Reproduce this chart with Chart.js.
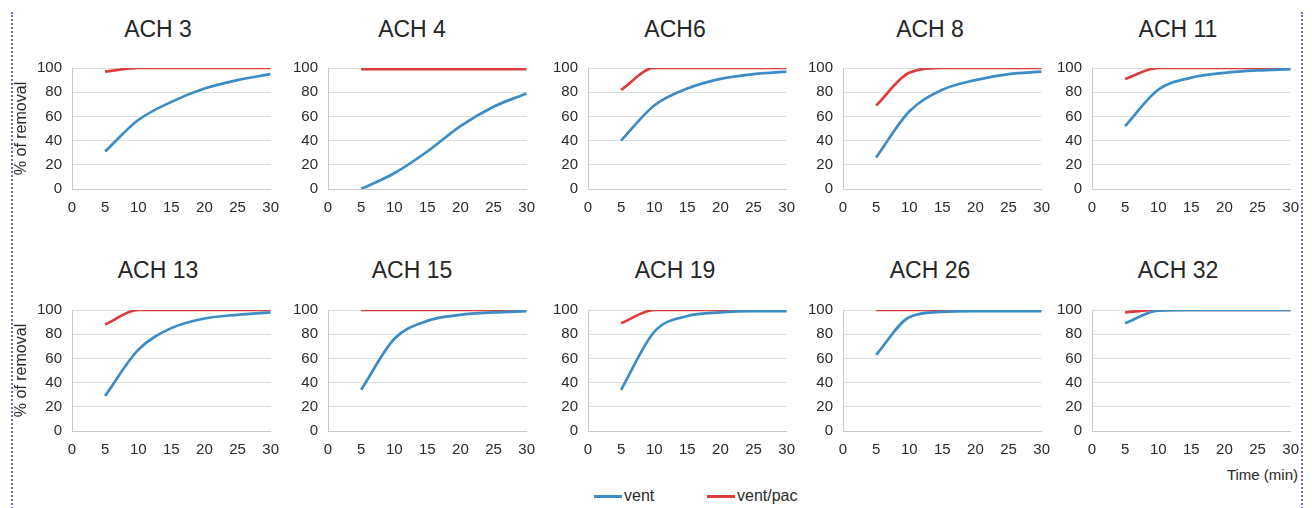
<!DOCTYPE html>
<html lang="en">
<head>
<meta charset="UTF-8">
<title>Removal over time by air change rate</title>
<script src="https://cdn.jsdelivr.net/npm/chart.js"></script>
<style>
  body { margin: 0; background: #fff; font-family: "Liberation Sans", Arial, sans-serif; color: #262626; }
  #figure { position: relative; width: 1312px; height: 508px; overflow: hidden; }
  #frame {
    position: absolute; left: 11px; top: 12px; width: 1288px; height: 520px;
    border-left: 2px dotted #8064c0; border-right: 2px dotted #8064c0;
  }
  canvas { position: absolute; }
  .title { position: absolute; font-size: 23px; transform: translate(-50%, -50%); white-space: nowrap; }
  .key-line { position: absolute; height: 3px; width: 28px; }
  .key-text { position: absolute; font-size: 16px; transform: translateY(-50%); color: #2a2a2a; }
  #time-label { position: absolute; right: 14px; top: 466px; font-size: 15px; color: #2a2a2a; }
</style>
</head>
<body>
<div id="figure">
  <div id="frame"></div>
  <div id="time-label">Time (min)</div>
  <div class="key-line" style="left:594px; top:495px; background:#3d8cc6"></div>
  <div class="key-text" style="left:624px; top:496px">vent</div>
  <div class="key-line" style="left:707px; top:495px; background:#dd3c3c"></div>
  <div class="key-text" style="left:737px; top:496px">vent/pac</div>
</div>
<script>
// sampling times (min)
const times = [5, 10, 15, 20, 25, 30];

const panelTitles = ['ACH 3', 'ACH 4', 'ACH6', 'ACH 8', 'ACH 11',
                     'ACH 13', 'ACH 15', 'ACH 19', 'ACH 26', 'ACH 32'];

// % of removal, ventilation only
const vent = [
  [31, 57, 72, 83, 90, 95],
  [0, 13, 31, 52, 68, 79],
  [40, 69, 83, 91, 95, 97],
  [26, 64, 82, 90, 95, 97],
  [52, 82, 92, 96, 98, 99],
  [29, 67, 85, 93, 96, 98],
  [34, 76, 91, 96, 98, 99],
  [34, 82, 95, 98, 99, 99],
  [63, 94, 98.5, 99, 99, 99],
  [89, 99.5, 100, 100, 100, 100]
];

// % of removal, ventilation + portable air cleaner
const ventPac = [
  [97, 100, 100, 100, 100, 100],
  [99, 99, 99, 99, 99, 99],
  [82, 100, 100, 100, 100, 100],
  [69, 96, 100, 100, 100, 100],
  [91, 100, 100, 100, 100, 100],
  [88, 100, 100, 100, 100, 100],
  [100, 100, 100, 100, 100, 100],
  [89, 100, 100, 100, 100, 100],
  [100, 100, 100, 100, 100, 100],
  [98, 100, 100, 100, 100, 100]
];

// layout of the 2 x 5 grid
const plotLeft = [72, 328, 588, 843, 1092];
const rowTop = [68, 310];
const PLOT_W = 201, PLOT_H = 121;
const TOP_OFF = 19, PAD_RIGHT = 16, X_AXIS_H = 34;
const titleX = [158, 412, 675, 930, 1178];
const titleY = [29, 270];

const BLUE = '#3d8cc6', RED = '#dd3c3c', TEXT = '#2a2a2a';
Chart.defaults.font.family = '"Liberation Sans", Arial, sans-serif';

const figure = document.getElementById('figure');

function toPoints(values) {
  return values.map((v, i) => ({ x: times[i], y: v }));
}

panelTitles.forEach((name, i) => {
  const row = Math.floor(i / 5), col = i % 5;
  const axisW = col === 0 ? 64 : 44;

  const title = document.createElement('div');
  title.className = 'title';
  title.textContent = name;
  title.style.left = titleX[col] + 'px';
  title.style.top = titleY[row] + 'px';
  figure.appendChild(title);

  // the chart area sits TOP_OFF px below the canvas top (room for the "100" label)
  const canvas = document.createElement('canvas');
  canvas.width = axisW + PLOT_W + PAD_RIGHT;
  canvas.height = TOP_OFF + PLOT_H + X_AXIS_H;
  canvas.style.left = (plotLeft[col] - axisW) + 'px';
  canvas.style.top = (rowTop[row] - TOP_OFF) + 'px';
  figure.appendChild(canvas);

  new Chart(canvas, {
    type: 'line',
    data: {
      datasets: [
        { label: 'vent', data: toPoints(vent[i]), borderColor: BLUE },
        { label: 'vent/pac', data: toPoints(ventPac[i]), borderColor: RED }
      ]
    },
    options: {
      responsive: false,
      animation: false,
      layout: { padding: { top: 1, right: PAD_RIGHT, left: 0, bottom: 0 } },
      plugins: { legend: { display: false }, tooltip: { enabled: false } },
      elements: {
        point: { radius: 0 },
        line: { borderWidth: 2.7, cubicInterpolationMode: 'monotone', fill: false }
      },
      scales: {
        x: {
          type: 'linear', min: 0, max: 30,
          ticks: { stepSize: 5, padding: 10, color: TEXT, font: { size: 15 } },
          grid: { display: false, drawTicks: false },
          border: { display: true, color: '#cacaca' },
          afterFit: s => { s.height = X_AXIS_H; }
        },
        y: {
          min: 0, max: 100,
          ticks: { stepSize: 20, padding: 10, color: TEXT, font: { size: 15 } },
          grid: { color: '#e0e0e0', drawTicks: false },
          border: { display: true, color: '#cacaca' },
          title: {
            display: col === 0, text: '% of removal', color: TEXT,
            font: { size: 16 }, padding: { top: 4, bottom: 0 }
          },
          afterFit: s => { s.width = axisW; }
        }
      }
    }
  });
});
</script>
</body>
</html>
